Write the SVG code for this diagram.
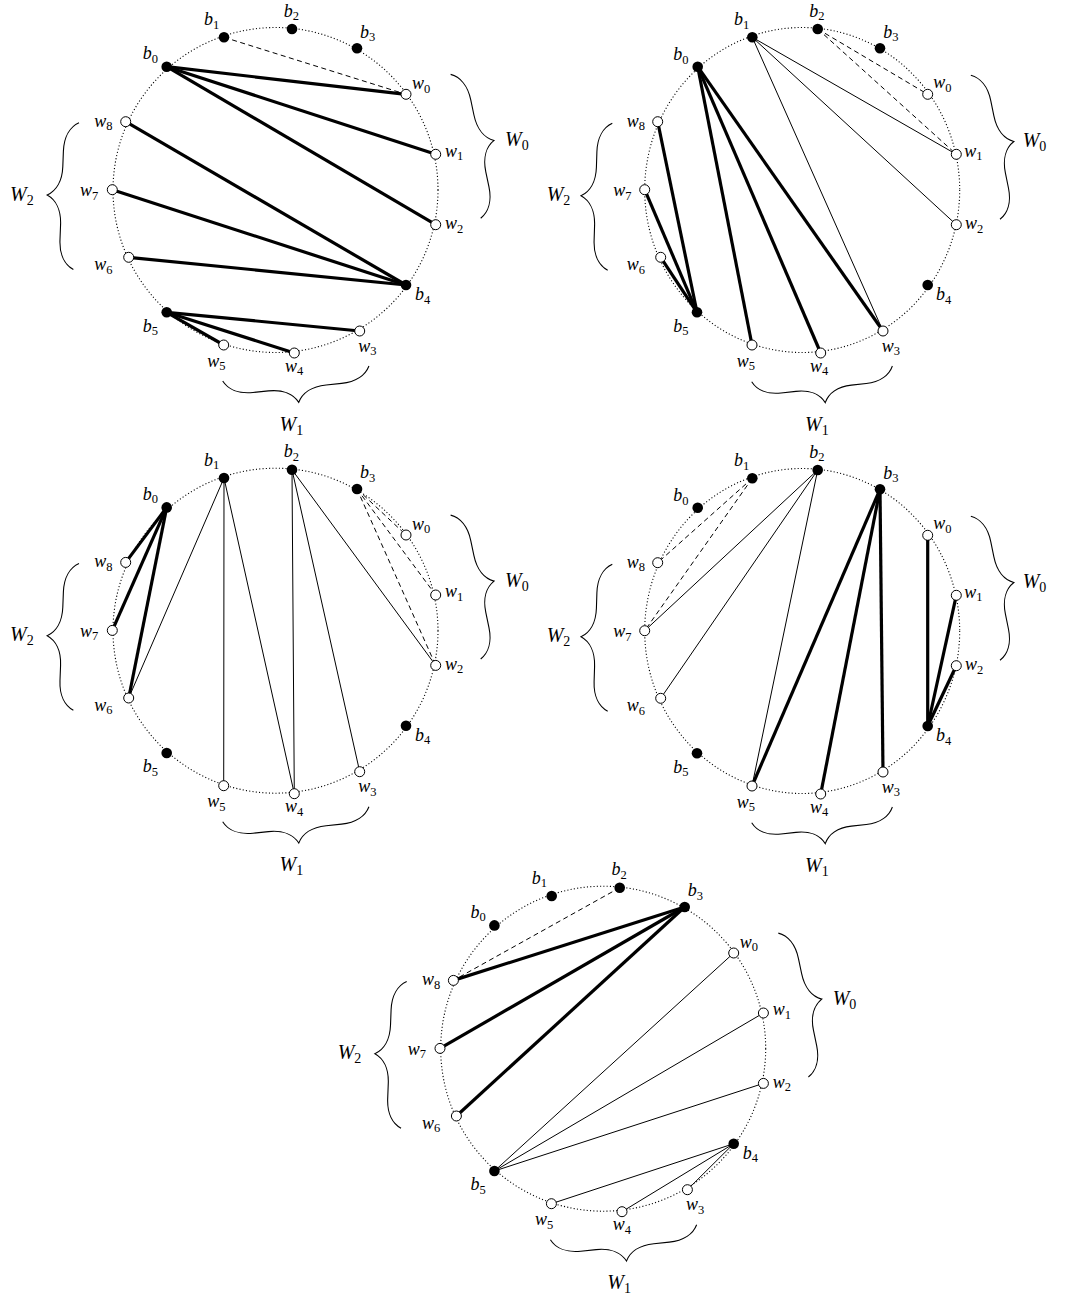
<svg xmlns="http://www.w3.org/2000/svg" width="1073" height="1295" viewBox="0 0 1073 1295">
<style>
.ring{fill:none;stroke:#000;stroke-width:1.1;stroke-dasharray:1.1 2.2}
.bn{fill:#000}
.wn{fill:#fff;stroke:#000;stroke-width:1}
.thick{stroke:#000;stroke-width:3.2;fill:none}
.thin{stroke:#000;stroke-width:1;fill:none}
.dash{stroke:#000;stroke-width:1;stroke-dasharray:5 3.5;fill:none}
.brace{fill:none;stroke:#000;stroke-width:1.1}
.lb{font-family:"Liberation Serif",serif;font-size:18px;font-style:italic;fill:#000}
.sub{font-size:12.5px;font-style:normal}
.W{font-size:20px}
.Wsub{font-size:14px;font-style:normal}
</style>
<defs>
<path id="brace" d="M0,0 C4.35,8.7 14.5,14.5 29,14.5 L44.5,14.5 C59,14.5 69.15,20.3 73.5,29 C77.85,20.3 88,14.5 102.5,14.5 L118,14.5 C132.5,14.5 142.65,8.7 147,0"/>
</defs>
<rect width="1073" height="1295" fill="#fff"/>

<!-- ============ Diagram 1 ============ -->
<g id="diagram1">
<circle class="ring" cx="275.5" cy="190" r="162.5"/>
<g id="d1-connectors">
<line class="dash" x1="224" y1="37.3" x2="406" y2="94.3"/>
<line class="thick" x1="166.7" y1="66.7" x2="406" y2="94.3"/>
<line class="thick" x1="166.7" y1="66.7" x2="435.7" y2="154.3"/>
<line class="thick" x1="166.7" y1="66.7" x2="435.7" y2="224.7"/>
<line class="thick" x1="125.7" y1="121.7" x2="406" y2="285"/>
<line class="thick" x1="112.3" y1="189.7" x2="406" y2="285"/>
<line class="thick" x1="128.7" y1="257.3" x2="406" y2="285"/>
<line class="thick" x1="166.7" y1="312.3" x2="359.7" y2="331"/>
<line class="thick" x1="166.7" y1="312.3" x2="294.3" y2="353"/>
<line class="thick" x1="166.7" y1="312.3" x2="223.7" y2="345"/>
</g>
<g id="d1-b0"><circle class="bn" cx="166.7" cy="66.7" r="5.3"/><text class="lb" x="142.7" y="59.3">b<tspan class="sub" dy="3.5">0</tspan></text></g>
<g id="d1-b1"><circle class="bn" cx="224" cy="37.3" r="5.3"/><text class="lb" x="204" y="25">b<tspan class="sub" dy="3.5">1</tspan></text></g>
<g id="d1-b2"><circle class="bn" cx="292" cy="29" r="5.3"/><text class="lb" x="283.7" y="16.7">b<tspan class="sub" dy="3.5">2</tspan></text></g>
<g id="d1-b3"><circle class="bn" cx="357" cy="48.3" r="5.3"/><text class="lb" x="360" y="37.7">b<tspan class="sub" dy="3.5">3</tspan></text></g>
<g id="d1-w0"><circle class="wn" cx="406" cy="94.3" r="5"/><text class="lb" x="412" y="89">w<tspan class="sub" dy="3.5">0</tspan></text></g>
<g id="d1-w1"><circle class="wn" cx="435.7" cy="154.3" r="5"/><text class="lb" x="445" y="156.7">w<tspan class="sub" dy="3.5">1</tspan></text></g>
<g id="d1-w2"><circle class="wn" cx="435.7" cy="224.7" r="5"/><text class="lb" x="445" y="229">w<tspan class="sub" dy="3.5">2</tspan></text></g>
<g id="d1-b4"><circle class="bn" cx="406" cy="285" r="5.3"/><text class="lb" x="415" y="300">b<tspan class="sub" dy="3.5">4</tspan></text></g>
<g id="d1-w3"><circle class="wn" cx="359.7" cy="331" r="5"/><text class="lb" x="358.3" y="351.7">w<tspan class="sub" dy="3.5">3</tspan></text></g>
<g id="d1-w4"><circle class="wn" cx="294.3" cy="353" r="5"/><text class="lb" x="285" y="371.7">w<tspan class="sub" dy="3.5">4</tspan></text></g>
<g id="d1-w5"><circle class="wn" cx="223.7" cy="345" r="5"/><text class="lb" x="207.3" y="366.7">w<tspan class="sub" dy="3.5">5</tspan></text></g>
<g id="d1-b5"><circle class="bn" cx="166.7" cy="312.3" r="5.3"/><text class="lb" x="142.7" y="331.7">b<tspan class="sub" dy="3.5">5</tspan></text></g>
<g id="d1-w6"><circle class="wn" cx="128.7" cy="257.3" r="5"/><text class="lb" x="94.3" y="270">w<tspan class="sub" dy="3.5">6</tspan></text></g>
<g id="d1-w7"><circle class="wn" cx="112.3" cy="189.7" r="5"/><text class="lb" x="80" y="196">w<tspan class="sub" dy="3.5">7</tspan></text></g>
<g id="d1-w8"><circle class="wn" cx="125.7" cy="121.7" r="5"/><text class="lb" x="94.3" y="126.7">w<tspan class="sub" dy="3.5">8</tspan></text></g>
<g id="d1-W0"><use href="#brace" class="brace" transform="translate(480.7,218.3) rotate(-101.8)"/><text class="lb W" x="505" y="146">W<tspan class="Wsub" dy="4">0</tspan></text></g>
<g id="d1-W1"><use href="#brace" class="brace" transform="translate(222.7,381) rotate(-5.84)"/><text class="lb W" x="279.6" y="430.8">W<tspan class="Wsub" dy="4">1</tspan></text></g>
<g id="d1-W2"><use href="#brace" class="brace" transform="translate(79,122.7) rotate(92.2)"/><text class="lb W" x="10" y="200.5">W<tspan class="Wsub" dy="4">2</tspan></text></g>
</g>

<!-- ============ Diagram 2 ============ -->
<g id="diagram2">
<ellipse class="ring" cx="802.2" cy="190" rx="157.5" ry="162.5"/>
<g id="d2-connectors">
<line class="dash" x1="817.7" y1="29" x2="927.7" y2="94.3"/>
<line class="dash" x1="817.7" y1="29" x2="956.3" y2="154.3"/>
<line class="thin" x1="752.3" y1="37.3" x2="956.3" y2="154.3"/>
<line class="thin" x1="752.3" y1="37.3" x2="956.3" y2="224.7"/>
<line class="thin" x1="752.3" y1="37.3" x2="883" y2="331"/>
<line class="thick" x1="697.7" y1="66.7" x2="883" y2="331"/>
<line class="thick" x1="697.7" y1="66.7" x2="820.7" y2="353"/>
<line class="thick" x1="697.7" y1="66.7" x2="752" y2="345"/>
<line class="thick" x1="697" y1="312.3" x2="657.7" y2="121.7"/>
<line class="thick" x1="697" y1="312.3" x2="644.7" y2="189.7"/>
<line class="thick" x1="697" y1="312.3" x2="660.7" y2="257.3"/>
</g>
<g id="d2-b0"><circle class="bn" cx="697.7" cy="66.7" r="5.3"/><text class="lb" x="673.3" y="60">b<tspan class="sub" dy="3.5">0</tspan></text></g>
<g id="d2-b1"><circle class="bn" cx="752.3" cy="37.3" r="5.3"/><text class="lb" x="734" y="25">b<tspan class="sub" dy="3.5">1</tspan></text></g>
<g id="d2-b2"><circle class="bn" cx="817.7" cy="29" r="5.3"/><text class="lb" x="809.3" y="16.7">b<tspan class="sub" dy="3.5">2</tspan></text></g>
<g id="d2-b3"><circle class="bn" cx="880" cy="48.3" r="5.3"/><text class="lb" x="883.3" y="37.7">b<tspan class="sub" dy="3.5">3</tspan></text></g>
<g id="d2-w0"><circle class="wn" cx="927.7" cy="94.3" r="5"/><text class="lb" x="933.3" y="88.3">w<tspan class="sub" dy="3.5">0</tspan></text></g>
<g id="d2-w1"><circle class="wn" cx="956.3" cy="154.3" r="5"/><text class="lb" x="964.3" y="156.7">w<tspan class="sub" dy="3.5">1</tspan></text></g>
<g id="d2-w2"><circle class="wn" cx="956.3" cy="224.7" r="5"/><text class="lb" x="965" y="229">w<tspan class="sub" dy="3.5">2</tspan></text></g>
<g id="d2-b4"><circle class="bn" cx="927.7" cy="285" r="5.3"/><text class="lb" x="936" y="300">b<tspan class="sub" dy="3.5">4</tspan></text></g>
<g id="d2-w3"><circle class="wn" cx="883" cy="331" r="5"/><text class="lb" x="881.7" y="351.7">w<tspan class="sub" dy="3.5">3</tspan></text></g>
<g id="d2-w4"><circle class="wn" cx="820.7" cy="353" r="5"/><text class="lb" x="810" y="371.7">w<tspan class="sub" dy="3.5">4</tspan></text></g>
<g id="d2-w5"><circle class="wn" cx="752" cy="345" r="5"/><text class="lb" x="736.7" y="366.7">w<tspan class="sub" dy="3.5">5</tspan></text></g>
<g id="d2-b5"><circle class="bn" cx="697" cy="312.3" r="5.3"/><text class="lb" x="673.3" y="331.7">b<tspan class="sub" dy="3.5">5</tspan></text></g>
<g id="d2-w6"><circle class="wn" cx="660.7" cy="257.3" r="5"/><text class="lb" x="626.7" y="270">w<tspan class="sub" dy="3.5">6</tspan></text></g>
<g id="d2-w7"><circle class="wn" cx="644.7" cy="189.7" r="5"/><text class="lb" x="613.3" y="196">w<tspan class="sub" dy="3.5">7</tspan></text></g>
<g id="d2-w8"><circle class="wn" cx="657.7" cy="121.7" r="5"/><text class="lb" x="626.7" y="126.7">w<tspan class="sub" dy="3.5">8</tspan></text></g>
<g id="d2-W0"><use href="#brace" class="brace" transform="translate(1000,219.3) rotate(-101.44)"/><text class="lb W" x="1022.7" y="146.7">W<tspan class="Wsub" dy="4">0</tspan></text></g>
<g id="d2-W1"><use href="#brace" class="brace" transform="translate(751.7,381.7) rotate(-6.37) scale(0.963,1)"/><text class="lb W" x="805" y="430.8">W<tspan class="Wsub" dy="4">1</tspan></text></g>
<g id="d2-W2"><use href="#brace" class="brace" transform="translate(612.3,123.3) rotate(91.8)"/><text class="lb W" x="546.7" y="201">W<tspan class="Wsub" dy="4">2</tspan></text></g>
</g>

<!-- ============ Diagram 3 ============ -->
<g id="diagram3" transform="translate(0,440.7)">
<circle class="ring" cx="275.5" cy="190" r="162.5"/>
<g id="d3-connectors">
<line class="thick" x1="166.7" y1="66.7" x2="125.7" y2="121.7"/>
<line class="thick" x1="166.7" y1="66.7" x2="112.3" y2="189.7"/>
<line class="thick" x1="166.7" y1="66.7" x2="128.7" y2="257.3"/>
<line class="thin" x1="224" y1="37.3" x2="128.7" y2="257.3"/>
<line class="thin" x1="224" y1="37.3" x2="223.7" y2="345"/>
<line class="thin" x1="224" y1="37.3" x2="294.3" y2="353"/>
<line class="thin" x1="292" y1="29" x2="294.3" y2="353"/>
<line class="thin" x1="292" y1="29" x2="359.7" y2="331"/>
<line class="thin" x1="292" y1="29" x2="435.7" y2="224.7"/>
<line class="dash" x1="357" y1="48.3" x2="406" y2="94.3"/>
<line class="dash" x1="357" y1="48.3" x2="435.7" y2="154.3"/>
<line class="dash" x1="357" y1="48.3" x2="435.7" y2="224.7"/>
</g>
<g id="d3-b0"><circle class="bn" cx="166.7" cy="66.7" r="5.3"/><text class="lb" x="142.7" y="59.3">b<tspan class="sub" dy="3.5">0</tspan></text></g>
<g id="d3-b1"><circle class="bn" cx="224" cy="37.3" r="5.3"/><text class="lb" x="204" y="25">b<tspan class="sub" dy="3.5">1</tspan></text></g>
<g id="d3-b2"><circle class="bn" cx="292" cy="29" r="5.3"/><text class="lb" x="283.7" y="16.7">b<tspan class="sub" dy="3.5">2</tspan></text></g>
<g id="d3-b3"><circle class="bn" cx="357" cy="48.3" r="5.3"/><text class="lb" x="360" y="37.7">b<tspan class="sub" dy="3.5">3</tspan></text></g>
<g id="d3-w0"><circle class="wn" cx="406" cy="94.3" r="5"/><text class="lb" x="412" y="89">w<tspan class="sub" dy="3.5">0</tspan></text></g>
<g id="d3-w1"><circle class="wn" cx="435.7" cy="154.3" r="5"/><text class="lb" x="445" y="156.7">w<tspan class="sub" dy="3.5">1</tspan></text></g>
<g id="d3-w2"><circle class="wn" cx="435.7" cy="224.7" r="5"/><text class="lb" x="445" y="229">w<tspan class="sub" dy="3.5">2</tspan></text></g>
<g id="d3-b4"><circle class="bn" cx="406" cy="285" r="5.3"/><text class="lb" x="415" y="300">b<tspan class="sub" dy="3.5">4</tspan></text></g>
<g id="d3-w3"><circle class="wn" cx="359.7" cy="331" r="5"/><text class="lb" x="358.3" y="351.7">w<tspan class="sub" dy="3.5">3</tspan></text></g>
<g id="d3-w4"><circle class="wn" cx="294.3" cy="353" r="5"/><text class="lb" x="285" y="371.7">w<tspan class="sub" dy="3.5">4</tspan></text></g>
<g id="d3-w5"><circle class="wn" cx="223.7" cy="345" r="5"/><text class="lb" x="207.3" y="366.7">w<tspan class="sub" dy="3.5">5</tspan></text></g>
<g id="d3-b5"><circle class="bn" cx="166.7" cy="312.3" r="5.3"/><text class="lb" x="142.7" y="331.7">b<tspan class="sub" dy="3.5">5</tspan></text></g>
<g id="d3-w6"><circle class="wn" cx="128.7" cy="257.3" r="5"/><text class="lb" x="94.3" y="270">w<tspan class="sub" dy="3.5">6</tspan></text></g>
<g id="d3-w7"><circle class="wn" cx="112.3" cy="189.7" r="5"/><text class="lb" x="80" y="196">w<tspan class="sub" dy="3.5">7</tspan></text></g>
<g id="d3-w8"><circle class="wn" cx="125.7" cy="121.7" r="5"/><text class="lb" x="94.3" y="126.7">w<tspan class="sub" dy="3.5">8</tspan></text></g>
<g id="d3-W0"><use href="#brace" class="brace" transform="translate(480.7,218.3) rotate(-101.8)"/><text class="lb W" x="505" y="146">W<tspan class="Wsub" dy="4">0</tspan></text></g>
<g id="d3-W1"><use href="#brace" class="brace" transform="translate(222.7,381) rotate(-5.84)"/><text class="lb W" x="279.6" y="430.8">W<tspan class="Wsub" dy="4">1</tspan></text></g>
<g id="d3-W2"><use href="#brace" class="brace" transform="translate(79,122.7) rotate(92.2)"/><text class="lb W" x="10" y="200.5">W<tspan class="Wsub" dy="4">2</tspan></text></g>
</g>

<!-- ============ Diagram 4 ============ -->
<g id="diagram4" transform="translate(0,441)">
<ellipse class="ring" cx="802.2" cy="190" rx="157.5" ry="162.5"/>
<g id="d4-connectors">
<line class="dash" x1="752.3" y1="37.3" x2="657.7" y2="121.7"/>
<line class="dash" x1="752.3" y1="37.3" x2="644.7" y2="189.7"/>
<line class="thin" x1="817.7" y1="29" x2="644.7" y2="189.7"/>
<line class="thin" x1="817.7" y1="29" x2="660.7" y2="257.3"/>
<line class="thin" x1="817.7" y1="29" x2="752" y2="345"/>
<line class="thick" x1="880" y1="48.3" x2="752" y2="345"/>
<line class="thick" x1="880" y1="48.3" x2="820.7" y2="353"/>
<line class="thick" x1="880" y1="48.3" x2="883" y2="331"/>
<line class="thick" x1="927.7" y1="285" x2="927.7" y2="94.3"/>
<line class="thick" x1="927.7" y1="285" x2="956.3" y2="154.3"/>
<line class="thick" x1="927.7" y1="285" x2="956.3" y2="224.7"/>
</g>
<g id="d4-b0"><circle class="bn" cx="697.7" cy="66.7" r="5.3"/><text class="lb" x="673.3" y="60">b<tspan class="sub" dy="3.5">0</tspan></text></g>
<g id="d4-b1"><circle class="bn" cx="752.3" cy="37.3" r="5.3"/><text class="lb" x="734" y="25">b<tspan class="sub" dy="3.5">1</tspan></text></g>
<g id="d4-b2"><circle class="bn" cx="817.7" cy="29" r="5.3"/><text class="lb" x="809.3" y="16.7">b<tspan class="sub" dy="3.5">2</tspan></text></g>
<g id="d4-b3"><circle class="bn" cx="880" cy="48.3" r="5.3"/><text class="lb" x="883.3" y="37.7">b<tspan class="sub" dy="3.5">3</tspan></text></g>
<g id="d4-w0"><circle class="wn" cx="927.7" cy="94.3" r="5"/><text class="lb" x="933.3" y="88.3">w<tspan class="sub" dy="3.5">0</tspan></text></g>
<g id="d4-w1"><circle class="wn" cx="956.3" cy="154.3" r="5"/><text class="lb" x="964.3" y="156.7">w<tspan class="sub" dy="3.5">1</tspan></text></g>
<g id="d4-w2"><circle class="wn" cx="956.3" cy="224.7" r="5"/><text class="lb" x="965" y="229">w<tspan class="sub" dy="3.5">2</tspan></text></g>
<g id="d4-b4"><circle class="bn" cx="927.7" cy="285" r="5.3"/><text class="lb" x="936" y="300">b<tspan class="sub" dy="3.5">4</tspan></text></g>
<g id="d4-w3"><circle class="wn" cx="883" cy="331" r="5"/><text class="lb" x="881.7" y="351.7">w<tspan class="sub" dy="3.5">3</tspan></text></g>
<g id="d4-w4"><circle class="wn" cx="820.7" cy="353" r="5"/><text class="lb" x="810" y="371.7">w<tspan class="sub" dy="3.5">4</tspan></text></g>
<g id="d4-w5"><circle class="wn" cx="752" cy="345" r="5"/><text class="lb" x="736.7" y="366.7">w<tspan class="sub" dy="3.5">5</tspan></text></g>
<g id="d4-b5"><circle class="bn" cx="697" cy="312.3" r="5.3"/><text class="lb" x="673.3" y="331.7">b<tspan class="sub" dy="3.5">5</tspan></text></g>
<g id="d4-w6"><circle class="wn" cx="660.7" cy="257.3" r="5"/><text class="lb" x="626.7" y="270">w<tspan class="sub" dy="3.5">6</tspan></text></g>
<g id="d4-w7"><circle class="wn" cx="644.7" cy="189.7" r="5"/><text class="lb" x="613.3" y="196">w<tspan class="sub" dy="3.5">7</tspan></text></g>
<g id="d4-w8"><circle class="wn" cx="657.7" cy="121.7" r="5"/><text class="lb" x="626.7" y="126.7">w<tspan class="sub" dy="3.5">8</tspan></text></g>
<g id="d4-W0"><use href="#brace" class="brace" transform="translate(1000,219.3) rotate(-101.44)"/><text class="lb W" x="1022.7" y="146.7">W<tspan class="Wsub" dy="4">0</tspan></text></g>
<g id="d4-W1"><use href="#brace" class="brace" transform="translate(751.7,381.7) rotate(-6.37) scale(0.963,1)"/><text class="lb W" x="805" y="430.8">W<tspan class="Wsub" dy="4">1</tspan></text></g>
<g id="d4-W2"><use href="#brace" class="brace" transform="translate(612.3,123.3) rotate(91.8)"/><text class="lb W" x="546.7" y="201">W<tspan class="Wsub" dy="4">2</tspan></text></g>
</g>

<!-- ============ Diagram 5 ============ -->
<g id="diagram5" transform="translate(327.7,858.7)">
<circle class="ring" cx="275.5" cy="190" r="162.5"/>
<g id="d5-connectors">
<line class="dash" x1="292" y1="29" x2="125.7" y2="121.7"/>
<line class="thick" x1="357" y1="48.3" x2="125.7" y2="121.7"/>
<line class="thick" x1="357" y1="48.3" x2="112.3" y2="189.7"/>
<line class="thick" x1="357" y1="48.3" x2="128.7" y2="257.3"/>
<line class="thin" x1="166.7" y1="312.3" x2="406" y2="94.3"/>
<line class="thin" x1="166.7" y1="312.3" x2="435.7" y2="154.3"/>
<line class="thin" x1="166.7" y1="312.3" x2="435.7" y2="224.7"/>
<line class="thin" x1="406" y1="285" x2="223.7" y2="345"/>
<line class="thin" x1="406" y1="285" x2="294.3" y2="353"/>
<line class="thin" x1="406" y1="285" x2="359.7" y2="331"/>
</g>
<g id="d5-b0"><circle class="bn" cx="166.7" cy="66.7" r="5.3"/><text class="lb" x="142.7" y="59.3">b<tspan class="sub" dy="3.5">0</tspan></text></g>
<g id="d5-b1"><circle class="bn" cx="224" cy="37.3" r="5.3"/><text class="lb" x="204" y="25">b<tspan class="sub" dy="3.5">1</tspan></text></g>
<g id="d5-b2"><circle class="bn" cx="292" cy="29" r="5.3"/><text class="lb" x="283.7" y="16.7">b<tspan class="sub" dy="3.5">2</tspan></text></g>
<g id="d5-b3"><circle class="bn" cx="357" cy="48.3" r="5.3"/><text class="lb" x="360" y="37.7">b<tspan class="sub" dy="3.5">3</tspan></text></g>
<g id="d5-w0"><circle class="wn" cx="406" cy="94.3" r="5"/><text class="lb" x="412" y="89">w<tspan class="sub" dy="3.5">0</tspan></text></g>
<g id="d5-w1"><circle class="wn" cx="435.7" cy="154.3" r="5"/><text class="lb" x="445" y="156.7">w<tspan class="sub" dy="3.5">1</tspan></text></g>
<g id="d5-w2"><circle class="wn" cx="435.7" cy="224.7" r="5"/><text class="lb" x="445" y="229">w<tspan class="sub" dy="3.5">2</tspan></text></g>
<g id="d5-b4"><circle class="bn" cx="406" cy="285" r="5.3"/><text class="lb" x="415" y="300">b<tspan class="sub" dy="3.5">4</tspan></text></g>
<g id="d5-w3"><circle class="wn" cx="359.7" cy="331" r="5"/><text class="lb" x="358.3" y="351.7">w<tspan class="sub" dy="3.5">3</tspan></text></g>
<g id="d5-w4"><circle class="wn" cx="294.3" cy="353" r="5"/><text class="lb" x="285" y="371.7">w<tspan class="sub" dy="3.5">4</tspan></text></g>
<g id="d5-w5"><circle class="wn" cx="223.7" cy="345" r="5"/><text class="lb" x="207.3" y="366.7">w<tspan class="sub" dy="3.5">5</tspan></text></g>
<g id="d5-b5"><circle class="bn" cx="166.7" cy="312.3" r="5.3"/><text class="lb" x="142.7" y="331.7">b<tspan class="sub" dy="3.5">5</tspan></text></g>
<g id="d5-w6"><circle class="wn" cx="128.7" cy="257.3" r="5"/><text class="lb" x="94.3" y="270">w<tspan class="sub" dy="3.5">6</tspan></text></g>
<g id="d5-w7"><circle class="wn" cx="112.3" cy="189.7" r="5"/><text class="lb" x="80" y="196">w<tspan class="sub" dy="3.5">7</tspan></text></g>
<g id="d5-w8"><circle class="wn" cx="125.7" cy="121.7" r="5"/><text class="lb" x="94.3" y="126.7">w<tspan class="sub" dy="3.5">8</tspan></text></g>
<g id="d5-W0"><use href="#brace" class="brace" transform="translate(480.7,218.3) rotate(-101.8)"/><text class="lb W" x="505" y="146">W<tspan class="Wsub" dy="4">0</tspan></text></g>
<g id="d5-W1"><use href="#brace" class="brace" transform="translate(222.7,381) rotate(-5.84)"/><text class="lb W" x="279.6" y="430.8">W<tspan class="Wsub" dy="4">1</tspan></text></g>
<g id="d5-W2"><use href="#brace" class="brace" transform="translate(79,122.7) rotate(92.2)"/><text class="lb W" x="10" y="200.5">W<tspan class="Wsub" dy="4">2</tspan></text></g>
</g>
</svg>
